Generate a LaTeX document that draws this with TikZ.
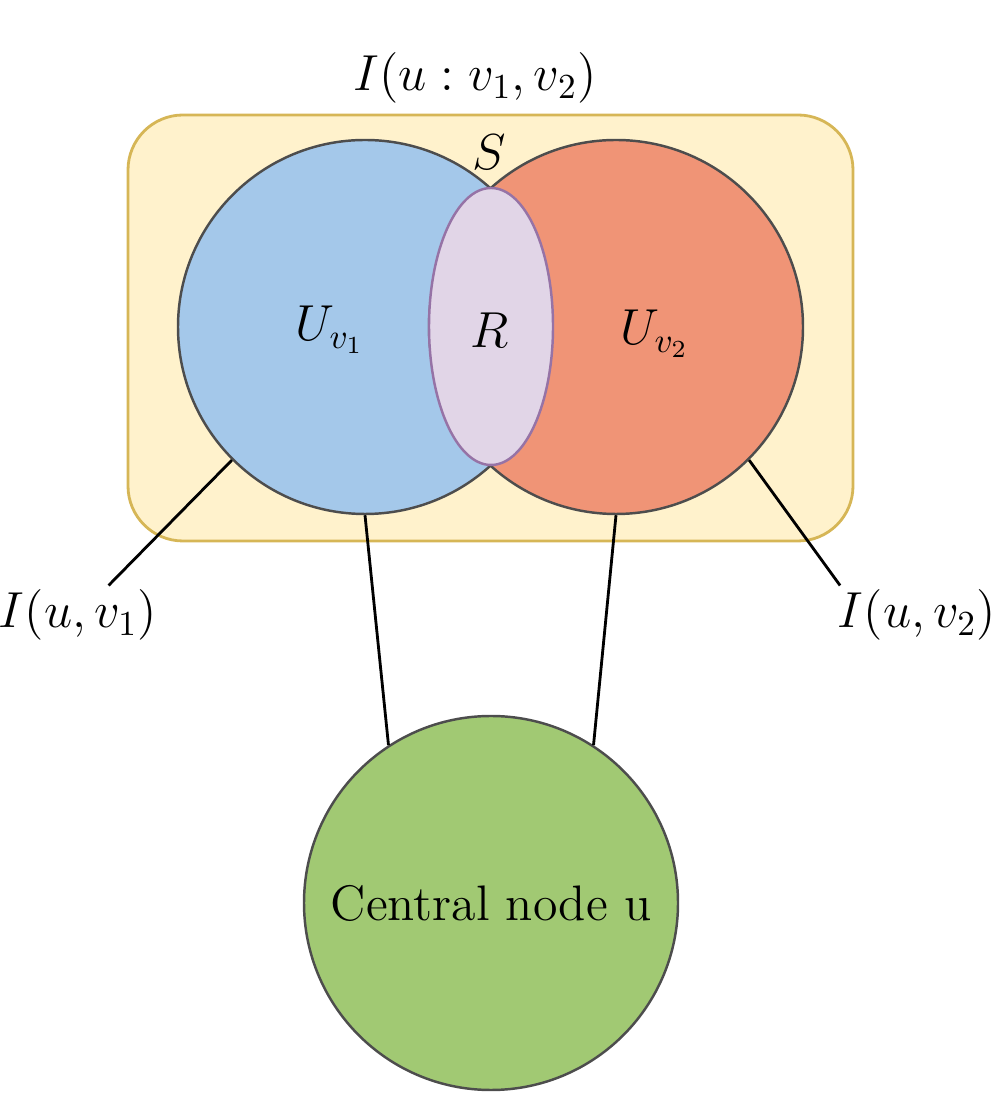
\documentclass[tikz,border=0pt]{standalone}
\usepackage{amsmath}
\usepackage{tikz}
\usetikzlibrary{shapes.geometric, positioning, calc}
\usepackage{xcolor}
\definecolor{boxfill}{HTML}{FFF2CC}
\definecolor{boxline}{HTML}{D6B656}
\definecolor{bluefill}{HTML}{A4C8EA}
\definecolor{redfill}{HTML}{F09476}
\definecolor{purplefill}{HTML}{E1D5E7}
\definecolor{purpleline}{HTML}{9673A6}
\definecolor{greenfill}{HTML}{A1C973}
\definecolor{darkline}{HTML}{4D4D4D}

\begin{document}
\begin{tikzpicture}[
    font=\fontsize{14.2}{17}\selectfont,
    venncirc/.style={circle, draw=darkline, line width=0.7pt, minimum size=3.74cm, inner sep=0pt},
    connline/.style={black, line width=0.8pt},
    sidelbl/.style={inner sep=1pt}
  ]
        \useasboundingbox (0,0) rectangle (10,11);
        \draw[fill=boxfill, draw=boxline, line width=0.8pt, rounded corners=0.55cm]
          (1.28,5.59) rectangle (8.53,9.85);
        \node[venncirc, fill=bluefill] (Uone) at (3.65,7.73) {};
        \node[venncirc, fill=redfill] (Utwo) at (6.16,7.73) {};
        \node[ellipse, fill=purplefill, draw=purpleline, line width=0.7pt,
          minimum width=1.24cm, minimum height=2.77cm, inner sep=0pt] (Rset) at (4.91,7.735) {};
        \node[venncirc, fill=greenfill] (cnode) at (4.91,1.97) {Central node u};
        \node (Uonelbl) at (3.30,7.70) {$U_{v_1}$};
        \node (Utwolbl) at (6.55,7.66) {$U_{v_2}$};
        \node (Rlbl) at (4.90,7.70) {$R$};
        \node (Slbl) at (4.89,9.48) {$S$};
        \node (toplbl) at (4.75,10.22) {$I(u:v_1,v_2)$};
        \node[sidelbl] (lblone) at (0.78,4.85) {$I(u,v_1)$};
        \node[sidelbl] (lbltwo) at (9.17,4.85) {$I(u,v_2)$};
        \draw[connline] (Uone.225) -- (lblone.44);
        \draw[connline] (Utwo.-45) -- (lbltwo.159);
        \draw[connline] (Uone.south) -- (cnode.123);
        \draw[connline] (Utwo.south) -- (cnode.57);
      \end{tikzpicture}
\end{document}
